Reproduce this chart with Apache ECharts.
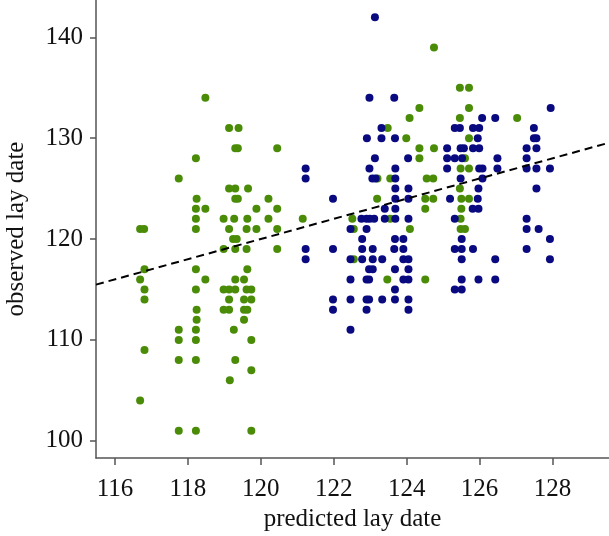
<!DOCTYPE html>
<html>
<head>
<meta charset="utf-8">
<script src="https://cdn.jsdelivr.net/npm/echarts@6/dist/echarts.min.js"></script>
<style>
  html, body { margin: 0; padding: 0; background: #fff; }
  #chart { width: 609px; height: 536px; }
</style>
</head>
<body>
<div id="chart"></div>
<script>
// tick labels
const xTicks = [116, 118, 120, 122, 124, 126, 128];
const yTicks = [100, 110, 120, 130, 140];

// green points [predicted, observed]
const greenPoints = [
  [116.69, 121], [116.80, 121], [116.81, 117], [116.69, 116], [116.81, 115], [116.81, 114], [116.81, 109], [116.69, 104],
  [117.75, 126], [117.75, 111], [117.75, 110], [117.75, 108], [117.75, 101],
  [118.48, 134], [118.22, 128], [118.24, 124], [118.22, 123], [118.48, 123], [118.22, 122], [118.22, 121], [118.22, 117],
  [118.48, 116], [118.22, 115], [118.24, 113], [118.24, 112], [118.22, 111], [118.22, 110], [118.22, 108], [118.22, 101],
  [119.13, 131], [119.39, 131], [119.30, 129], [119.37, 129], [119.13, 125], [119.30, 125], [119.65, 125],
  [119.30, 124], [119.37, 124], [119.88, 123], [118.98, 122], [119.27, 122], [119.63, 122],
  [119.13, 121], [119.61, 121], [119.88, 121], [119.24, 120], [119.34, 120], [118.98, 119], [119.30, 119], [119.61, 119],
  [119.63, 117], [119.30, 116], [119.54, 116], [118.98, 115], [119.13, 115], [119.30, 115], [119.61, 115], [119.74, 115],
  [119.13, 114], [119.54, 114], [119.74, 114], [118.98, 113], [119.13, 113], [119.54, 113], [119.63, 113],
  [119.54, 112], [119.26, 111], [119.74, 110], [119.30, 108], [119.74, 107], [119.15, 106], [119.74, 101],
  [120.21, 124], [120.21, 122], [120.45, 129], [120.45, 123], [120.45, 121], [120.45, 119], [121.15, 122],
  [122.51, 122], [122.55, 121], [122.55, 118], [123.20, 126], [123.55, 126], [123.19, 124], [123.55, 122], [123.47, 116],
  [123.48, 131], [123.99, 130], [124.08, 132], [124.35, 133], [124.75, 139], [124.35, 129], [124.75, 129], [124.35, 128],
  [124.55, 126], [124.73, 126], [124.51, 124], [124.73, 124], [124.51, 123], [124.09, 121], [124.51, 116],
  [125.46, 135], [125.71, 135], [125.71, 133], [125.46, 132], [127.03, 132], [125.71, 130], [125.60, 128],
  [125.48, 127], [125.71, 127], [125.46, 125], [125.50, 124], [125.71, 124], [125.50, 123], [125.48, 122],
  [125.48, 121], [125.60, 121]
];

// blue points [predicted, observed]
const bluePoints = [
  [121.23, 127], [121.23, 126], [121.23, 119], [121.23, 118],
  [121.98, 124], [121.98, 119], [121.98, 114], [121.98, 113],
  [122.46, 121], [122.46, 118], [122.46, 116], [122.46, 114], [122.46, 111],
  [122.76, 122], [122.90, 122], [122.99, 122], [123.11, 122],
  [122.78, 120], [122.78, 119], [122.78, 118],
  [122.90, 121], [122.90, 116], [122.97, 116], [122.90, 114], [122.97, 114], [122.90, 113],
  [122.97, 117], [123.07, 117], [123.07, 119], [123.07, 118], [123.33, 118], [123.33, 114],
  [122.91, 130], [122.98, 134], [123.13, 142], [123.31, 131], [123.31, 130], [123.66, 134], [123.68, 130],
  [123.13, 128], [122.98, 127], [123.69, 127], [123.06, 126], [123.15, 126], [123.69, 126],
  [123.69, 125], [124.05, 125], [123.69, 124], [124.05, 124], [123.40, 123], [123.69, 123],
  [123.40, 122], [123.69, 122], [124.05, 122], [124.04, 128],
  [123.68, 120], [123.91, 120], [123.66, 119], [123.91, 119], [123.91, 118], [124.05, 118],
  [123.68, 117], [124.05, 117], [123.91, 116], [124.05, 116], [123.68, 115],
  [123.68, 114], [124.05, 114], [124.05, 113],
  [127.95, 133], [126.07, 132], [126.43, 132],
  [125.32, 131], [125.46, 131], [125.82, 131], [125.99, 131], [127.49, 131],
  [125.95, 130], [127.49, 130], [127.56, 130],
  [125.11, 129], [125.48, 129], [125.57, 129], [125.82, 129], [125.99, 129], [127.29, 129], [127.56, 129],
  [125.11, 128], [125.32, 128], [125.52, 128], [126.49, 128], [127.29, 128],
  [125.11, 127], [125.99, 127], [126.08, 127], [126.49, 127], [127.29, 127], [127.56, 127], [127.93, 127],
  [125.48, 126], [126.08, 126], [125.97, 125], [127.56, 125],
  [125.19, 124], [125.95, 124], [125.81, 123], [125.97, 123],
  [125.32, 122], [127.29, 122], [127.29, 121], [127.62, 121],
  [125.51, 120], [127.93, 120],
  [125.32, 119], [125.51, 119], [125.82, 119], [127.29, 119],
  [125.51, 118], [126.43, 118], [127.93, 118],
  [125.51, 116], [125.97, 116], [126.43, 116],
  [125.32, 115], [125.51, 115]
];

// dashed reference line (1:1)
const refLine = [[115.48, 115.48], [129.55, 129.55]];

const axisColor = '#555';
const font = '"Liberation Serif", "Times New Roman", serif';

const chart = echarts.init(document.getElementById('chart'));
chart.setOption({
  animation: false,
  grid: { left: 96, right: 0, top: 0, bottom: 78, outerBoundsMode: 'none', containLabel: false },
  xAxis: {
    type: 'value',
    min: 115.48,
    max: 129.55,
    name: 'predicted lay date',
    nameLocation: 'middle',
    nameGap: 47,
    nameTextStyle: { fontFamily: font, fontSize: 25, color: '#111' },
    axisLine: { onZero: false, lineStyle: { color: axisColor, width: 1.5 } },
    axisTick: { customValues: xTicks, length: 7, lineStyle: { color: axisColor, width: 1.5 } },
    axisLabel: { customValues: xTicks, fontFamily: font, fontSize: 25, color: '#111', margin: 19 },
    splitLine: { show: false }
  },
  yAxis: {
    type: 'value',
    min: 98.29,
    max: 143.7,
    name: 'observed lay date',
    nameLocation: 'middle',
    nameGap: 67,
    nameTextStyle: { fontFamily: font, fontSize: 25, color: '#111' },
    axisLine: { onZero: false, lineStyle: { color: axisColor, width: 1.5 } },
    axisTick: { customValues: yTicks, length: 6, lineStyle: { color: axisColor, width: 1.5 } },
    axisLabel: { customValues: yTicks, fontFamily: font, fontSize: 25, color: '#111', margin: 13 },
    splitLine: { show: false }
  },
  series: [
    {
      type: 'scatter',
      data: greenPoints,
      symbolSize: 8,
      itemStyle: { color: '#4a8c08', opacity: 1 }
    },
    {
      type: 'scatter',
      data: bluePoints,
      symbolSize: 8,
      itemStyle: { color: '#0a0a80', opacity: 1 }
    },
    {
      type: 'line',
      data: refLine,
      symbol: 'none',
      lineStyle: { color: '#000', width: 2, type: [8, 5] },
      z: 5
    }
  ]
});
</script>
</body>
</html>
